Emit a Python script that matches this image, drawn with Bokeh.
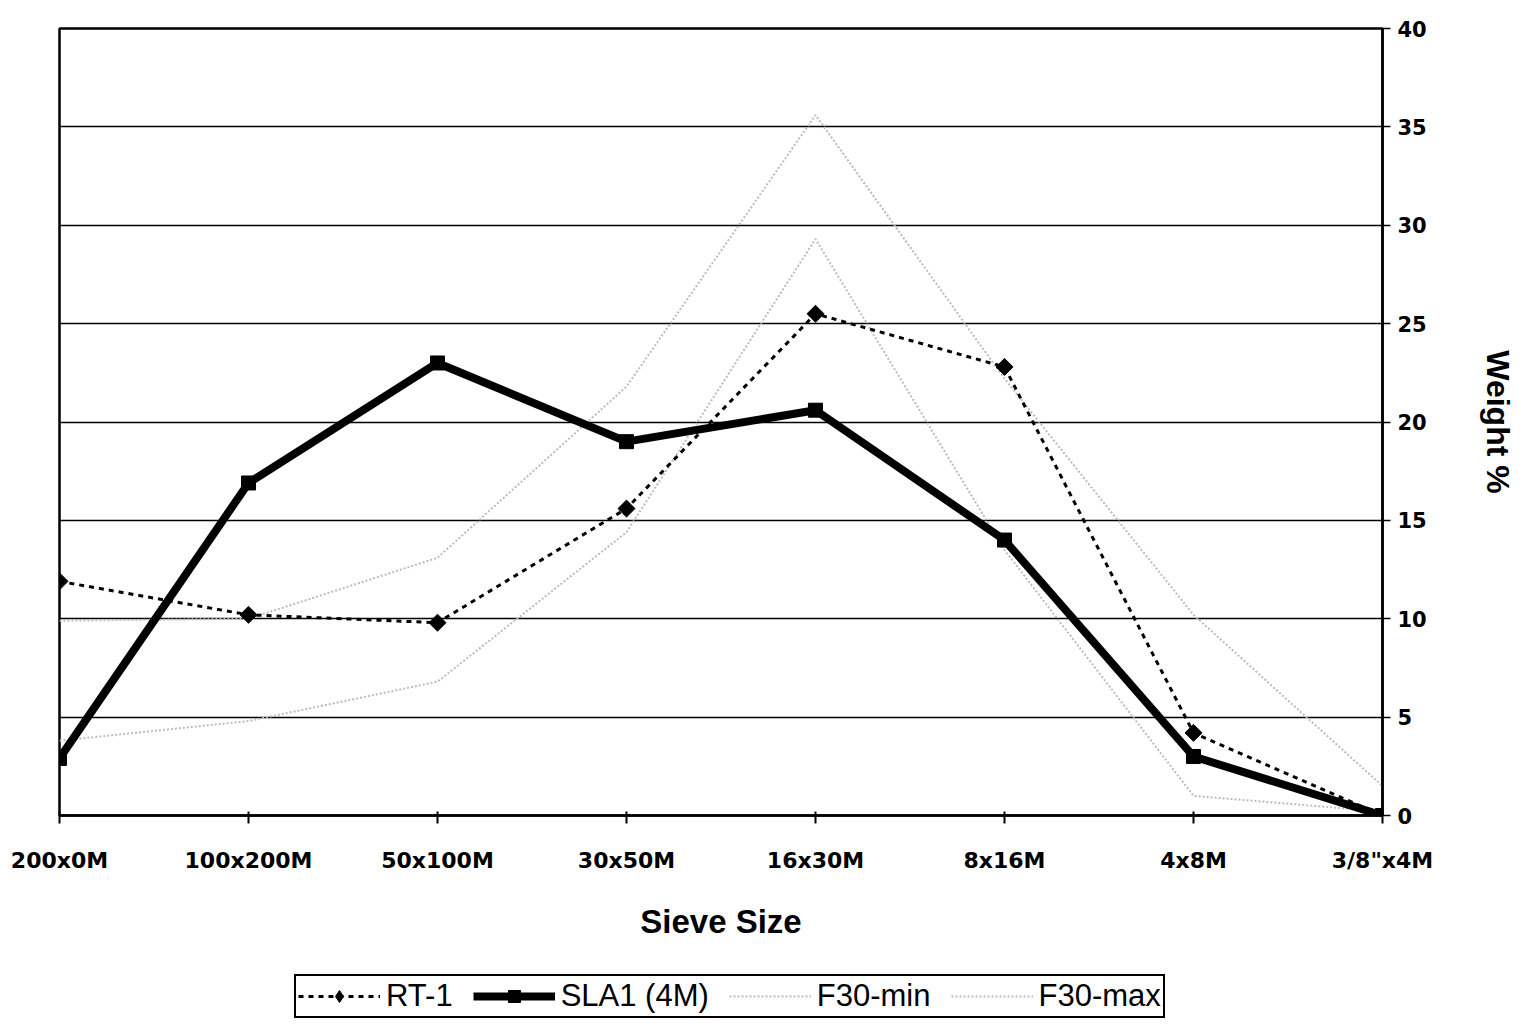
import math
from bokeh.plotting import figure
from bokeh.layouts import column
from bokeh.models import Range1d, FixedTicker, Legend, LegendItem
from bokeh.embed import file_html
from bokeh.resources import INLINE

categories = ["200x0M", "100x200M", "50x100M", "30x50M", "16x30M", "8x16M", "4x8M", "3/8\"x4M"]
rt1 = [11.9, 10.2, 9.8, 15.6, 25.5, 22.8, 4.2, 0.0]
sla1 = [2.9, 16.9, 23.0, 19.0, 20.6, 14.0, 3.0, 0.0]
f30_min = [3.8, 4.8, 6.8, 14.4, 29.3, 13.5, 1.0, 0.2]
f30_max = [9.9, 10.0, 13.1, 21.8, 35.6, 22.2, 10.2, 1.5]
y_ticks = [0, 5, 10, 15, 20, 25, 30, 35, 40]
series_names = ["RT-1", "SLA1 (4M)", "F30-min", "F30-max"]

xs = list(range(len(categories)))

p = figure(frame_width=1323, frame_height=787, output_backend="svg", toolbar_location=None,
           x_range=Range1d(0, len(categories) - 1), y_range=Range1d(0, 40),
           y_axis_location="right",
           min_border_left=59, min_border_right=145, min_border_top=28, min_border_bottom=150)

p.background_fill_color = "white"
p.border_fill_color = "white"
p.outline_line_color = "black"
p.outline_line_width = 2.5

# grids
p.xgrid.visible = False
p.ygrid.ticker = FixedTicker(ticks=[5, 10, 15, 20, 25, 30, 35])
p.ygrid.grid_line_color = "black"
p.ygrid.grid_line_width = 1.5

# x axis
xa = p.xaxis[0]
xa.ticker = FixedTicker(ticks=xs)
xa.major_label_overrides = {i: c for i, c in enumerate(categories)}
xa.axis_line_width = 2.5
xa.axis_line_color = "black"
xa.major_tick_in = 4
xa.major_tick_out = 8
xa.major_tick_line_width = 2
xa.minor_tick_line_color = None
xa.major_label_text_font = "DejaVu Sans"
xa.major_label_text_font_style = "bold"
xa.major_label_text_font_size = "22px"
xa.major_label_text_color = "black"
xa.major_label_standoff = 24
xa.axis_label = "Sieve Size"
xa.axis_label_text_font = "Liberation Sans"
xa.axis_label_text_font_style = "bold"
xa.axis_label_text_font_size = "33px"
xa.axis_label_text_color = "black"
xa.axis_label_standoff = 27

# y axis (right)
ya = p.yaxis[0]
ya.ticker = FixedTicker(ticks=y_ticks)
ya.axis_line_width = 2.5
ya.axis_line_color = "black"
ya.major_tick_in = 0
ya.major_tick_out = 8
ya.major_tick_line_width = 1.5
ya.minor_tick_line_color = None
ya.major_label_text_font = "DejaVu Sans"
ya.major_label_text_font_style = "bold"
ya.major_label_text_font_size = "21px"
ya.major_label_text_color = "black"
ya.major_label_standoff = 7
ya.axis_label = "Weight %"
ya.axis_label_text_font = "Liberation Sans"
ya.axis_label_text_font_style = "bold"
ya.axis_label_text_font_size = "32px"
ya.axis_label_text_color = "black"
ya.axis_label_standoff = 50

# series styles
grey = "#bcbcbc"
styles = {
    "min": dict(line_color=grey, line_width=2, line_dash="2 2"),
    "max": dict(line_color=grey, line_width=2, line_dash="2 2"),
    "rt": dict(line_color="black", line_width=3, line_dash="5 5"),
    "sla": dict(line_color="black", line_width=8),
}
rt_marker = dict(marker="square", size=12, angle=math.pi / 4, fill_color="black", line_color="black")
sla_marker = dict(marker="square", size=14, fill_color="black", line_color="black")

p.line(xs, f30_min, **styles["min"])
p.line(xs, f30_max, **styles["max"])
p.line(xs, rt1, **styles["rt"])
p.scatter(xs, rt1, **rt_marker)
p.line(xs, sla1, **styles["sla"])
p.scatter(xs, sla1, **sla_marker)

# legend strip below the chart (series drawn out of view, only their legend glyphs show)
lf = figure(width=1527, height=62, output_backend="svg", toolbar_location=None,
            x_range=Range1d(100, 101), y_range=Range1d(100, 101),
            x_axis_type=None, y_axis_type=None,
            min_border_left=0, min_border_right=0, min_border_top=0, min_border_bottom=0)
lf.outline_line_color = None
lf.xgrid.visible = False
lf.ygrid.visible = False
lr_rt = lf.line(xs, rt1, **styles["rt"])
lr_rt_pts = lf.scatter(xs, rt1, marker="diamond", size=18, fill_color="black", line_color="black")
lr_sla = lf.line(xs, sla1, **styles["sla"])
lr_sla_pts = lf.scatter(xs, sla1, **sla_marker)
lr_min = lf.line(xs, f30_min, **styles["min"])
lr_max = lf.line(xs, f30_max, **styles["max"])

legend = Legend(items=[
    LegendItem(label=series_names[0], renderers=[lr_rt, lr_rt_pts]),
    LegendItem(label=series_names[1], renderers=[lr_sla, lr_sla_pts]),
    LegendItem(label=series_names[2], renderers=[lr_min]),
    LegendItem(label=series_names[3], renderers=[lr_max]),
], orientation="horizontal", location=(235, 9))
legend.label_text_font = "Liberation Sans"
legend.label_text_font_size = "31px"
legend.label_text_color = "black"
legend.glyph_width = 82
legend.glyph_height = 30
legend.label_height = 30
legend.label_standoff = 6
legend.spacing = 20
legend.padding = 2
legend.margin = 0
legend.border_line_color = "black"
legend.border_line_alpha = 1.0
legend.border_line_width = 2
legend.background_fill_color = "white"
lf.add_layout(legend, "center")

layout = column(p, lf, spacing=0)
open("out.html", "w").write(file_html(layout, INLINE))
